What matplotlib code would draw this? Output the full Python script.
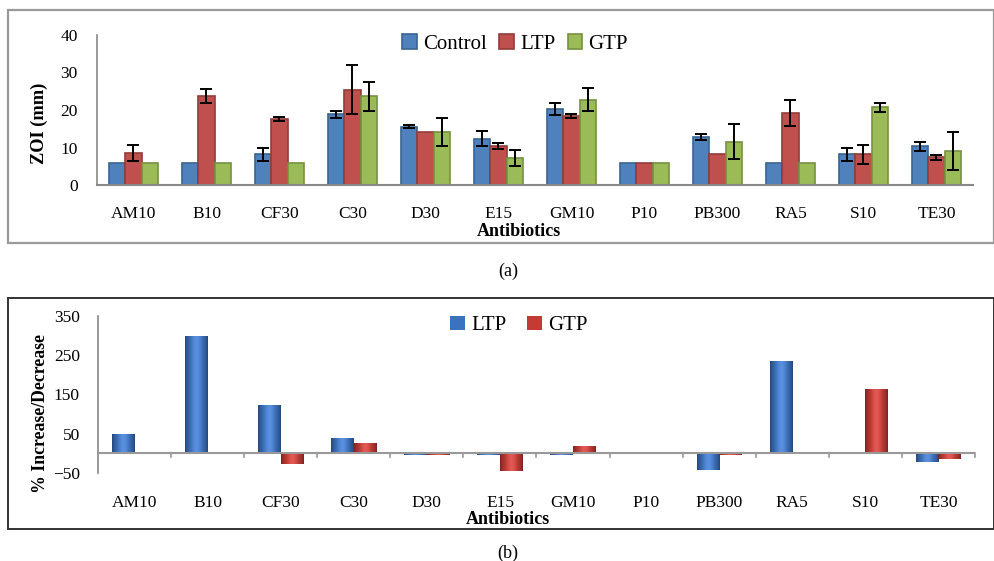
import matplotlib
matplotlib.use("Agg")
import matplotlib.pyplot as plt
import numpy as np
from matplotlib.patches import Rectangle

plt.rcParams['font.family'] = ['Liberation Serif', 'DejaVu Serif']

categories = ["AM10", "B10", "CF30", "C30", "D30", "E15", "GM10", "P10", "PB300", "RA5", "S10", "TE30"]

control = [6, 6, 8.2, 18.9, 15.6, 12.4, 20.3, 6, 12.9, 6, 8.2, 10.4]
control_err = [0, 0, 1.8, 0.9, 0.4, 2.1, 1.6, 0, 0.8, 0, 1.7, 1.2]
ltp = [8.6, 23.7, 17.6, 25.4, 14.2, 10.4, 18.5, 6, 8.2, 19.3, 8.2, 7.4]
ltp_err = [2.1, 1.8, 0.6, 6.5, 0, 0.7, 0.5, 0, 0, 3.5, 2.6, 0.7]
gtp = [6, 6, 6, 23.7, 14.2, 7.3, 22.8, 6, 11.6, 6, 20.7, 9.1]
gtp_err = [0, 0, 0, 3.9, 3.8, 2.1, 3.1, 0, 4.7, 0, 1.2, 5.1]

pct_ltp = [50, 300, 122, 39, -3, -3, -3, 0, -42, 235, 0, -22]
pct_gtp = [0, 0, -27, 26, -3, -44, 19, 0, -5, 0, 164, -14]

W, H = 995, 561
fig = plt.figure(figsize=(W / 100, H / 100), dpi=100)

def fx(px):
    return px / W

def fy(py):
    return 1 - py / H

FS = 12.5
LEG = dict(family='Liberation Serif', size=15)

# panel borders
fig.patches.append(Rectangle((fx(8), fy(243)), fx(994 - 8), (243 - 10) / H,
                             transform=fig.transFigure, fill=False, ec="#9a9a9a", lw=1.6))
fig.patches.append(Rectangle((fx(8), fy(529)), fx(994 - 8), (529 - 298) / H,
                             transform=fig.transFigure, fill=False, ec="#333333", lw=1.4))

# ---------- panel (a) ----------
ax1 = fig.add_axes([fx(97), fy(185), fx(973 - 97), (185 - 35) / H])
x = np.arange(len(categories))
bw = 0.22
cols = ["#4F81BD", "#C0504D", "#9BBB59"]
edges = ["#3A6390", "#923C3A", "#76913F"]
names = ["Control", "LTP", "GTP"]
for i, (vals, errs) in enumerate([(control, control_err), (ltp, ltp_err), (gtp, gtp_err)]):
    pos = x + (i - 1) * bw
    ax1.bar(pos, vals, width=bw, color=cols[i], edgecolor=edges[i], lw=1.2, label=names[i], zorder=2)
    e = np.array(errs, dtype=float)
    m = e > 0
    ax1.errorbar(pos[m], np.array(vals)[m], yerr=e[m], fmt="none", ecolor="black",
                 elinewidth=1.4, capsize=4, capthick=1.4, zorder=3)
ax1.set_xlim(-0.5, len(categories) - 0.5)
ax1.set_ylim(0, 40)
ax1.set_yticks([0, 10, 20, 30, 40])
ax1.set_xticks(x)
ax1.set_xticklabels(categories)
ax1.tick_params(axis="x", length=0, pad=15, labelsize=FS)
ax1.tick_params(axis="y", length=0, pad=14, labelsize=FS)
for s in ["top", "right"]:
    ax1.spines[s].set_visible(False)
ax1.spines["left"].set_color("#888888")
ax1.spines["bottom"].set_color("#888888")
ax1.spines["left"].set_linewidth(1.2)
ax1.spines["bottom"].set_linewidth(1.5)
ax1.set_ylabel("ZOI (mm)", fontsize=13.2, fontweight="bold")
ax1.yaxis.set_label_coords(-0.056, 0.413)
fig.text(fx(519), fy(231), "Antibiotics", ha="center", va="center", fontsize=13, fontweight="bold")
ax1.legend(loc="upper center", bbox_to_anchor=(fx(515 - 97) / fx(973 - 97), 1.13), ncol=3, frameon=False,
           prop=LEG, handlelength=0.7, handleheight=0.7, handletextpad=0.3, columnspacing=0.6)
fig.text(fx(508), fy(271), "(a)", ha="center", va="center", fontsize=13)

# ---------- panel (b) ----------
ax2 = fig.add_axes([fx(98), fy(473), fx(975 - 98), (473 - 316) / H])
bw2 = 0.31
bcols = ["#3B72C0", "#C43A35"]
bnames = ["LTP", "GTP"]
containers = []
for i, vals in enumerate([pct_ltp, pct_gtp]):
    pos = x + (i - 0.5) * bw2
    c = ax2.bar(pos, vals, width=bw2, color=bcols[i], edgecolor="none", label=bnames[i], zorder=2)
    containers.append(c)

# cylinder-like shading
grad = np.linspace(0, 1, 64)
shade = 0.6 + 0.4 * np.sin(np.pi * grad) ** 0.6
for i, c in enumerate(containers):
    base = np.array(matplotlib.colors.to_rgb(bcols[i]))
    img = np.zeros((2, 64, 3))
    for k in range(64):
        col = base * shade[k]
        col = np.clip(col + 0.12 * np.sin(np.pi * grad[k]) ** 4, 0, 1)
        img[:, k, :] = col
    for r in c.patches:
        h = r.get_height()
        if h == 0:
            continue
        x0 = r.get_x()
        y0 = r.get_y()
        im = ax2.imshow(img, extent=[x0, x0 + r.get_width(), min(y0, y0 + h), max(y0, y0 + h)],
                        aspect="auto", zorder=2.5, interpolation="bilinear")
        im.set_clip_path(r)

ax2.set_xlim(-0.5, len(categories) - 0.5)
ax2.set_ylim(-50, 350)
ax2.set_yticks([-50, 50, 150, 250, 350])
ax2.set_xticks(x)
ax2.set_xticklabels(categories)
ax2.tick_params(axis="x", length=0, pad=16, labelsize=FS)
ax2.tick_params(axis="y", length=0, pad=13, labelsize=FS)
for s in ["top", "right", "bottom"]:
    ax2.spines[s].set_visible(False)
ax2.spines["left"].set_color("#888888")
ax2.spines["left"].set_linewidth(1.2)
ax2.axhline(0, color="#999999", lw=1.5, zorder=3)
for b in np.arange(len(categories) + 1) - 0.5:
    ax2.plot([b, b], [0, -9], color="#999999", lw=1.2, zorder=3, clip_on=False)
ax2.set_ylabel("% Increase/Decrease", fontsize=12.8, fontweight="bold")
ax2.yaxis.set_label_coords(-0.056, 0.376)
fig.text(fx(508), fy(520), "Antibiotics", ha="center", va="center", fontsize=13, fontweight="bold")
ax2.legend(loc="upper center", bbox_to_anchor=(fx(519 - 98) / fx(975 - 98), 1.12), ncol=2, frameon=False,
           prop=LEG, handlelength=0.7, handleheight=0.7, handletextpad=0.3, columnspacing=1.0)
fig.text(fx(508), fy(553), "(b)", ha="center", va="center", fontsize=13)

fig.savefig("out.png", dpi=100)
